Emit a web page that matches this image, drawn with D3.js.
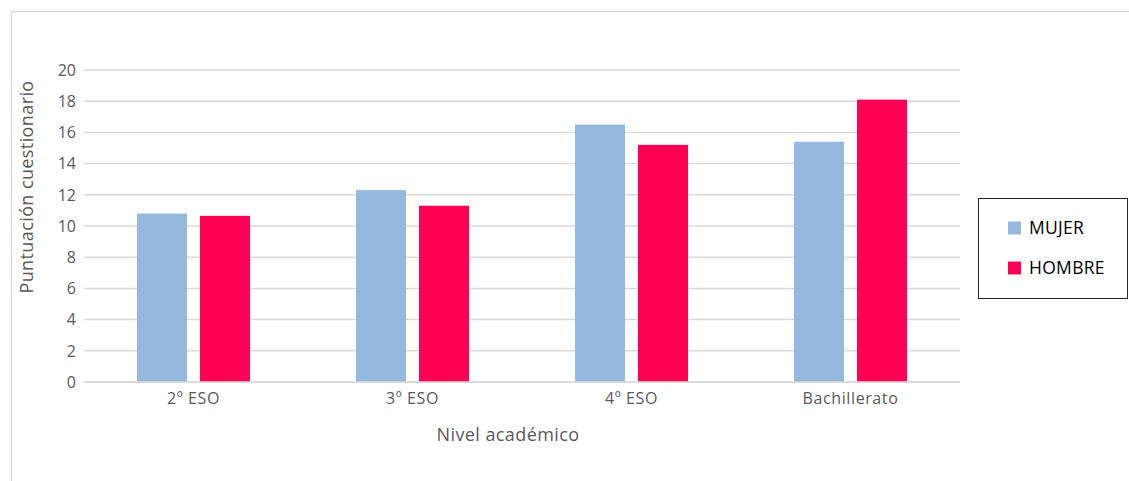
<!DOCTYPE html>
<html>
<head>
<meta charset="utf-8">
<script src="https://cdn.jsdelivr.net/npm/d3@7"></script>
<style>
  body { margin: 0; background: #fff; }
  svg { display: block; font-family: "Open Sans", Lato, sans-serif; }
</style>
</head>
<body>
<svg id="chart" width="1129" height="481"></svg>
<script>
const categories = ["2º ESO", "3º ESO", "4º ESO", "Bachillerato"];
const seriesNames = ["MUJER", "HOMBRE"];
const mujer = [10.8, 12.3, 16.5, 15.4];
const hombre = [10.65, 11.3, 15.2, 18.1];
const yTicks = [0, 2, 4, 6, 8, 10, 12, 14, 16, 18, 20];
const colors = ["#95b8de", "#ff0055"];

const svg = d3.select("#chart");
const plot = { left: 84, right: 960, top: 70, bottom: 382 };

// outer frame (only top and left edges visible)
svg.append("path")
    .attr("d", "M11.5,481 V11.5 H1129")
    .attr("fill", "none")
    .attr("stroke", "#d9d9d9")
    .attr("stroke-width", 1.5);

const x = d3.scaleBand()
    .domain(categories)
    .range([plot.left, plot.right]);

const x1 = d3.scaleBand()
    .domain(seriesNames)
    .range([0, 113])
    .paddingInner(13 / 63);

const y = d3.scaleLinear()
    .domain([0, 20])
    .range([plot.bottom, plot.top]);

// gridlines
svg.append("g")
    .selectAll("line")
    .data(yTicks)
    .join("line")
    .attr("x1", plot.left)
    .attr("x2", plot.right)
    .attr("y1", d => y(d))
    .attr("y2", d => y(d))
    .attr("stroke", "#d9d9d9")
    .attr("stroke-width", 1.5);

// y tick labels
svg.append("g")
    .selectAll("text")
    .data(yTicks)
    .join("text")
    .attr("x", 76)
    .attr("y", d => y(d))
    .attr("dy", "0.36em")
    .attr("text-anchor", "end")
    .attr("fill", "#595959")
    .attr("font-size", 16)
    .text(d => d);

// bars
const rows = categories.map((c, i) => ({ cat: c, values: [mujer[i], hombre[i]] }));
const groups = svg.append("g")
    .selectAll("g")
    .data(rows)
    .join("g")
    .attr("transform", d => `translate(${x(d.cat) + (x.bandwidth() - 113) / 2},0)`);

groups.selectAll("rect")
    .data(d => d.values.map((v, j) => ({ name: seriesNames[j], value: v, j })))
    .join("rect")
    .attr("x", d => x1(d.name))
    .attr("width", x1.bandwidth())
    .attr("y", d => y(d.value))
    .attr("height", d => y(0) - y(d.value))
    .attr("fill", d => colors[d.j]);

// x axis baseline
svg.append("line")
    .attr("x1", plot.left)
    .attr("x2", plot.right)
    .attr("y1", y(0))
    .attr("y2", y(0))
    .attr("stroke", "#d9d9d9")
    .attr("stroke-width", 1.5);

// x tick labels
svg.append("g")
    .selectAll("text")
    .data(categories)
    .join("text")
    .attr("x", d => x(d) + x.bandwidth() / 2)
    .attr("y", 404)
    .attr("text-anchor", "middle")
    .attr("fill", "#595959")
    .attr("font-size", 16)
    .attr("letter-spacing", 0.6)
    .text(d => d);

// axis titles
svg.append("text")
    .attr("x", 508)
    .attr("y", 441)
    .attr("text-anchor", "middle")
    .attr("fill", "#595959")
    .attr("font-size", 18)
    .attr("letter-spacing", 0.4)
    .text("Nivel académico");

svg.append("text")
    .attr("transform", "translate(33,187) rotate(-90)")
    .attr("text-anchor", "middle")
    .attr("fill", "#595959")
    .attr("font-size", 18)
    .attr("letter-spacing", 0.4)
    .text("Puntuación cuestionario");

// legend
const legend = svg.append("g");
legend.append("rect")
    .attr("x", 978.5)
    .attr("y", 198.5)
    .attr("width", 149)
    .attr("height", 100)
    .attr("fill", "#fff")
    .attr("stroke", "#222")
    .attr("stroke-width", 1);

const items = legend.selectAll("g")
    .data(seriesNames)
    .join("g")
    .attr("transform", (d, i) => `translate(1008,${228 + i * 40})`);

items.append("rect")
    .attr("y", -6.5)
    .attr("width", 13)
    .attr("height", 13)
    .attr("fill", (d, i) => colors[i]);

items.append("text")
    .attr("x", 21)
    .attr("dy", "0.36em")
    .attr("fill", "#000")
    .attr("font-size", 17.5)
    .attr("letter-spacing", 0.3)
    .text(d => d);
</script>
</body>
</html>
